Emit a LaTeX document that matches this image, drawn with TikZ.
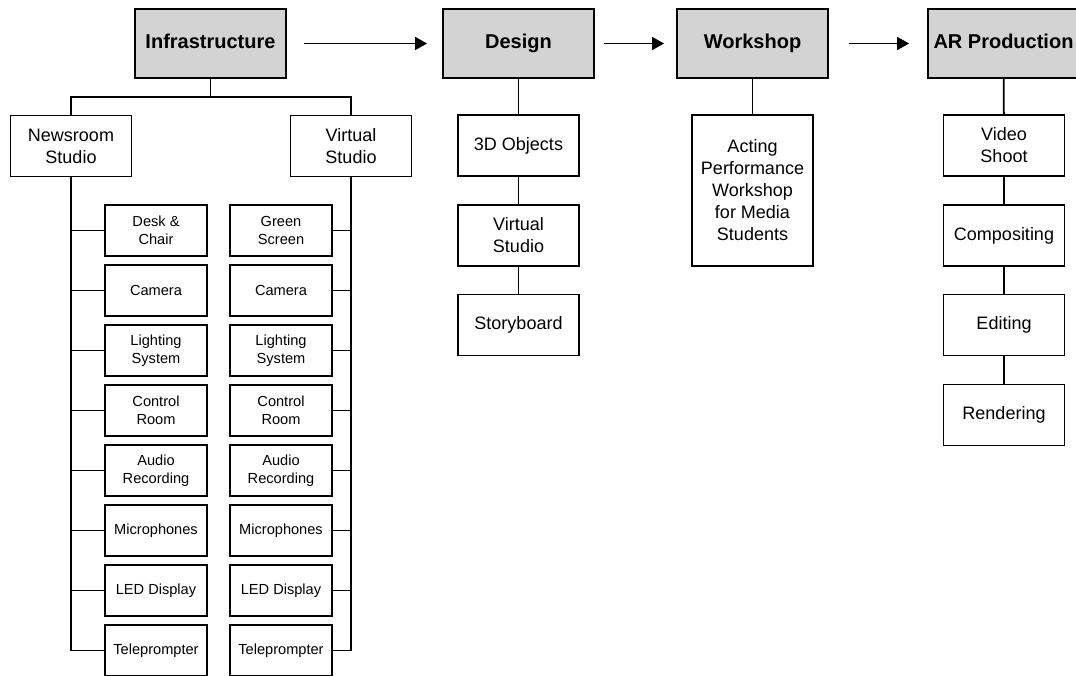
\documentclass[tikz,border=0pt]{standalone}
\usepackage{fontspec}
\setmainfont{Liberation Sans}
\usetikzlibrary{arrows.meta}
\definecolor{boxgray}{RGB}{211,211,211}

\begin{document}
\begin{tikzpicture}[x=1pt,y=-1pt,
  stage/.style={draw, line width=1.8pt, fill=boxgray, inner sep=0pt, minimum width=151pt, minimum height=69pt, text height=14.5pt, text depth=4pt, font=\fontsize{20}{24}\selectfont\bfseries},
  part/.style={draw, line width=1.8pt, fill=white, inner sep=0pt, minimum width=121pt, minimum height=61pt, align=center, font=\fontsize{18}{22}\selectfont},
  item/.style={draw, line width=1.8pt, fill=white, inner sep=0pt, minimum width=102pt, minimum height=51pt, align=center, font=\fontsize{14.6}{17.7}\selectfont},
  link/.style={line width=1.8pt},
  flow/.style={line width=1.6pt, -{Triangle[length=12pt,width=13pt]}}]
% Etapas del proyecto: infraestructura, diseño, taller y producción AR
\clip (0,0) rectangle (1076,675);
\fill[white] (0,0) rectangle (1076,675);

\node[stage] (infra) at (210.5,43.5) {Infrastructure};
\node[stage] (design) at (518.5,43.5) {Design};
\node[stage] (workshop) at (752.5,43.5) {Workshop};
\node[stage] (arprod) at (1003.5,43.5) {AR Production};

\draw[flow, shorten <=17pt, shorten >=15pt] (infra) -- (design);
\draw[flow, shorten <=9pt, shorten >=12pt] (design) -- (workshop);
\draw[flow, shorten <=20pt, shorten >=18pt] (workshop) -- (arprod);

% Infraestructura
\node[part] (news) at (71,146) {Newsroom\\Studio};
\node[part] (vstudio) at (351,146) {Virtual\\Studio};
\coordinate (split) at (210.5,97);
\draw[link] (infra) -- (split);
\draw[link] (news) |- (split) -| (vstudio);

\node[item] (n1) at (156,230.5) {Desk \&\\Chair};
\node[item] (n2) at (156,290.5) {Camera};
\node[item] (n3) at (156,350.5) {Lighting\\System};
\node[item] (n4) at (156,410.5) {Control\\Room};
\node[item] (n5) at (156,470.5) {Audio\\Recording};
\node[item] (n6) at (156,530.5) {Microphones};
\node[item] (n7) at (156,590.5) {LED Display};
\node[item] (n8) at (156,650.5) {Teleprompter};

\node[item] (v1) at (281,230.5) {Green\\Screen};
\node[item] (v2) at (281,290.5) {Camera};
\node[item] (v3) at (281,350.5) {Lighting\\System};
\node[item] (v4) at (281,410.5) {Control\\Room};
\node[item] (v5) at (281,470.5) {Audio\\Recording};
\node[item] (v6) at (281,530.5) {Microphones};
\node[item] (v7) at (281,590.5) {LED Display};
\node[item] (v8) at (281,650.5) {Teleprompter};

\draw[link] (news) |- (n8);
\draw[link] (news.south |- n1.west) -- (n1.west);
\draw[link] (news.south |- n2.west) -- (n2.west);
\draw[link] (news.south |- n3.west) -- (n3.west);
\draw[link] (news.south |- n4.west) -- (n4.west);
\draw[link] (news.south |- n5.west) -- (n5.west);
\draw[link] (news.south |- n6.west) -- (n6.west);
\draw[link] (news.south |- n7.west) -- (n7.west);

\draw[link] (vstudio) |- (v8);
\draw[link] (vstudio.south |- v1.east) -- (v1.east);
\draw[link] (vstudio.south |- v2.east) -- (v2.east);
\draw[link] (vstudio.south |- v3.east) -- (v3.east);
\draw[link] (vstudio.south |- v4.east) -- (v4.east);
\draw[link] (vstudio.south |- v5.east) -- (v5.east);
\draw[link] (vstudio.south |- v6.east) -- (v6.east);
\draw[link] (vstudio.south |- v7.east) -- (v7.east);

% Diseño
\node[part] (objects) at (518.5,145.5) {3D Objects};
\node[part] (dstudio) at (518.5,235.5) {Virtual\\Studio};
\node[part] (story) at (518.5,325) {Storyboard};
\draw[link] (design) -- (objects);
\draw[link] (objects) -- (dstudio);
\draw[link] (dstudio) -- (story);

% Taller
\node[part, minimum height=151pt] (acting) at (752.5,190.5) {Acting\\Performance\\Workshop\\for Media\\Students};
\draw[link] (workshop) -- (acting);

% Producción AR
\node[part] (shoot) at (1004,145.5) {Video\\Shoot};
\node[part] (compos) at (1004,235.5) {Compositing};
\node[part] (editing) at (1004,325) {Editing};
\node[part] (render) at (1004,415) {Rendering};
\draw[link] (arprod) -- (shoot);
\draw[link] (shoot) -- (compos);
\draw[link] (compos) -- (editing);
\draw[link] (editing) -- (render);
\end{tikzpicture}
\end{document}
